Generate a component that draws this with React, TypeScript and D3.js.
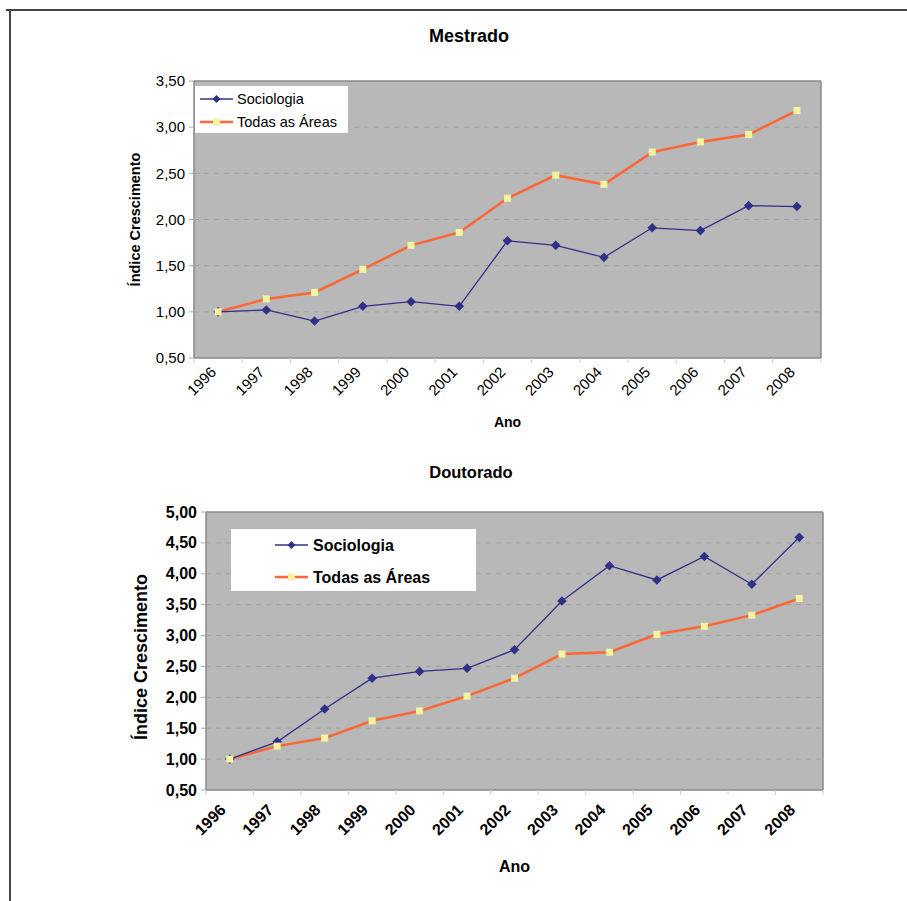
import React from "react";
import * as d3 from "d3";

const years = ["1996","1997","1998","1999","2000","2001","2002","2003","2004","2005","2006","2007","2008"];
const mestradoSociologia = [1.00,1.02,0.90,1.06,1.11,1.06,1.77,1.72,1.59,1.91,1.88,2.15,2.14];
const mestradoTodas = [1.00,1.14,1.21,1.46,1.72,1.86,2.23,2.48,2.38,2.73,2.84,2.92,3.18];
const doutoradoSociologia = [1.00,1.28,1.81,2.31,2.42,2.47,2.77,3.56,4.13,3.90,4.28,3.83,4.59];
const doutoradoTodas = [1.00,1.21,1.34,1.62,1.78,2.02,2.31,2.70,2.73,3.02,3.15,3.33,3.60];
const mestradoTicks = [0.5,1.0,1.5,2.0,2.5,3.0,3.5];
const doutoradoTicks = [0.5,1.0,1.5,2.0,2.5,3.0,3.5,4.0,4.5,5.0];
const seriesNames = ["Sociologia", "Todas as Áreas"];

const fmt = (v: number) => v.toFixed(2).replace(".", ",");
const FONT = "'Liberation Sans', Arial, sans-serif";
const SOC = "#303088";
const TOD = "#ff6633";
const MARK = "#f4f4a0";

type PanelProps = {
  title: string; titleX: number; titleY: number; titleFs: number;
  left: number; right: number; top: number; bottom: number;
  ymax: number; ticks: number[]; soc: number[]; tod: number[];
  bold: boolean; tickFs: number; yTitleX: number; yTitleDy: number; yTitleFs: number; anoY: number;
  legend: { x: number; y: number; w: number; h: number; lx1: number; lx2: number; tx: number; r1: number; r2: number; fs: number };
  xlabY: number; xlabDx: number;
};

function Panel(p: PanelProps) {
  const x = d3.scaleBand<string>().domain(years).range([p.left, p.right]);
  const y = d3.scaleLinear().domain([0.5, p.ymax]).range([p.bottom, p.top]);
  const cx = (i: number) => (x(years[i]) as number) + x.bandwidth() / 2;
  const line = d3.line<number>().x((_, i) => cx(i)).y((d) => y(d));
  const fw = p.bold ? "bold" : "normal";
  const midX = (p.left + p.right) / 2;
  const midY = (p.top + p.bottom) / 2 + p.yTitleDy;
  const lg = p.legend;
  const ds = 4.8;
  return (
    <g>
      <text x={p.titleX} y={p.titleY} textAnchor="middle" fontFamily={FONT} fontWeight="bold" fontSize={p.titleFs}>{p.title}</text>
      <rect x={p.left} y={p.top} width={p.right - p.left} height={p.bottom - p.top} fill="#b8b8b8" />
      {p.ticks.filter((t) => t > 0.5 && t < p.ymax).map((t) => (
        <line key={t} x1={p.left} x2={p.right} y1={y(t)} y2={y(t)} stroke="#a2a2a2" strokeWidth={1} strokeDasharray="5,5" />
      ))}
      <line x1={p.left} x2={p.right} y1={p.top} y2={p.top} stroke="#8a8a8a" strokeWidth={1.5} />
      <line x1={p.right} x2={p.right} y1={p.top} y2={p.bottom} stroke="#8a8a8a" strokeWidth={1.5} />
      <line x1={p.left} x2={p.left} y1={p.top} y2={p.bottom} stroke="#8a8a8a" strokeWidth={1.5} />
      <line x1={p.left} x2={p.right} y1={p.bottom} y2={p.bottom} stroke="#8a8a8a" strokeWidth={1.5} />
      {p.ticks.map((t) => (
        <g key={t}>
          <line x1={p.left - 5} x2={p.left} y1={y(t)} y2={y(t)} stroke="#aaaaaa" />
          <text x={p.left - 9} y={y(t)} dy="0.35em" textAnchor="end" fontFamily={FONT} fontWeight={fw} fontSize={p.tickFs}>{fmt(t)}</text>
        </g>
      ))}
      {years.map((yr) => (
        <line key={yr} x1={x(yr) as number} x2={x(yr) as number} y1={p.bottom} y2={p.bottom + 5} stroke="#cccccc" />
      ))}
      <line x1={p.right} x2={p.right} y1={p.bottom} y2={p.bottom + 5} stroke="#cccccc" />
      {years.map((yr, i) => (
        <text key={yr} transform={`translate(${cx(i) + p.xlabDx},${p.xlabY}) rotate(-45)`} textAnchor="end" fontFamily={FONT} fontWeight={fw} fontSize={p.tickFs}>{yr}</text>
      ))}
      <text x={midX} y={p.anoY} textAnchor="middle" fontFamily={FONT} fontWeight="bold" fontSize={p.bold ? 16 : 14}>Ano</text>
      <text transform={`translate(${p.yTitleX},${midY}) rotate(-90)`} textAnchor="middle" fontFamily={FONT} fontWeight="bold" fontSize={p.yTitleFs}>Índice Crescimento</text>
      <path d={line(p.tod) as string} fill="none" stroke={TOD} strokeWidth={2.5} />
      <path d={line(p.soc) as string} fill="none" stroke={SOC} strokeWidth={1.3} />
      {p.soc.map((v, i) => (
        <path key={i} d={`M${cx(i)},${y(v) - ds}L${cx(i) + ds},${y(v)}L${cx(i)},${y(v) + ds}L${cx(i) - ds},${y(v)}Z`} fill={SOC} />
      ))}
      {p.tod.map((v, i) => (
        <rect key={i} x={cx(i) - 3.5} y={y(v) - 3.5} width={7} height={7} fill={MARK} />
      ))}
      <rect x={lg.x} y={lg.y} width={lg.w} height={lg.h} fill="#ffffff" />
      <line x1={lg.lx1} x2={lg.lx2} y1={lg.r1} y2={lg.r1} stroke={SOC} strokeWidth={1.3} />
      <path d={`M${(lg.lx1 + lg.lx2) / 2},${lg.r1 - 4}L${(lg.lx1 + lg.lx2) / 2 + 4},${lg.r1}L${(lg.lx1 + lg.lx2) / 2},${lg.r1 + 4}L${(lg.lx1 + lg.lx2) / 2 - 4},${lg.r1}Z`} fill={SOC} />
      <text x={lg.tx} y={lg.r1} dy="0.35em" fontFamily={FONT} fontWeight={fw} fontSize={lg.fs}>{seriesNames[0]}</text>
      <line x1={lg.lx1} x2={lg.lx2} y1={lg.r2} y2={lg.r2} stroke={TOD} strokeWidth={2.5} />
      <rect x={(lg.lx1 + lg.lx2) / 2 - 3.5} y={lg.r2 - 3.5} width={7} height={7} fill={MARK} />
      <text x={lg.tx} y={lg.r2} dy="0.35em" fontFamily={FONT} fontWeight={fw} fontSize={lg.fs}>{seriesNames[1]}</text>
    </g>
  );
}

export default function App() {
  return (
    <svg width={907} height={901} style={{ position: "absolute", left: 0, top: 0 }}>
      <rect x={0} y={0} width={907} height={901} fill="#ffffff" />
      <line x1={6} x2={907} y1={10} y2={10} stroke="#444444" strokeWidth={2} />
      <line x1={10} x2={10} y1={10} y2={901} stroke="#444444" strokeWidth={2} />
      <Panel
        title="Mestrado" titleX={469} titleY={42} titleFs={18}
        left={194} right={821} top={81} bottom={358}
        ymax={3.5} ticks={mestradoTicks} soc={mestradoSociologia} tod={mestradoTodas}
        bold={false} tickFs={15} yTitleX={140} yTitleDy={0} yTitleFs={14.5} anoY={427}
        legend={{ x: 195, y: 86, w: 153, h: 47, lx1: 200, lx2: 233, tx: 237, r1: 99, r2: 122, fs: 14.5 }}
        xlabY={373} xlabDx={-1}
      />
      <Panel
        title="Doutorado" titleX={471} titleY={478} titleFs={16.5}
        left={206} right={823} top={512} bottom={790}
        ymax={5.0} ticks={doutoradoTicks} soc={doutoradoSociologia} tod={doutoradoTodas}
        bold={true} tickFs={16} yTitleX={147} yTitleDy={6} yTitleFs={18} anoY={872}
        legend={{ x: 231, y: 529, w: 245, h: 62, lx1: 275, lx2: 308, tx: 313, r1: 545, r2: 577, fs: 16 }}
        xlabY={811} xlabDx={-3}
      />
    </svg>
  );
}
